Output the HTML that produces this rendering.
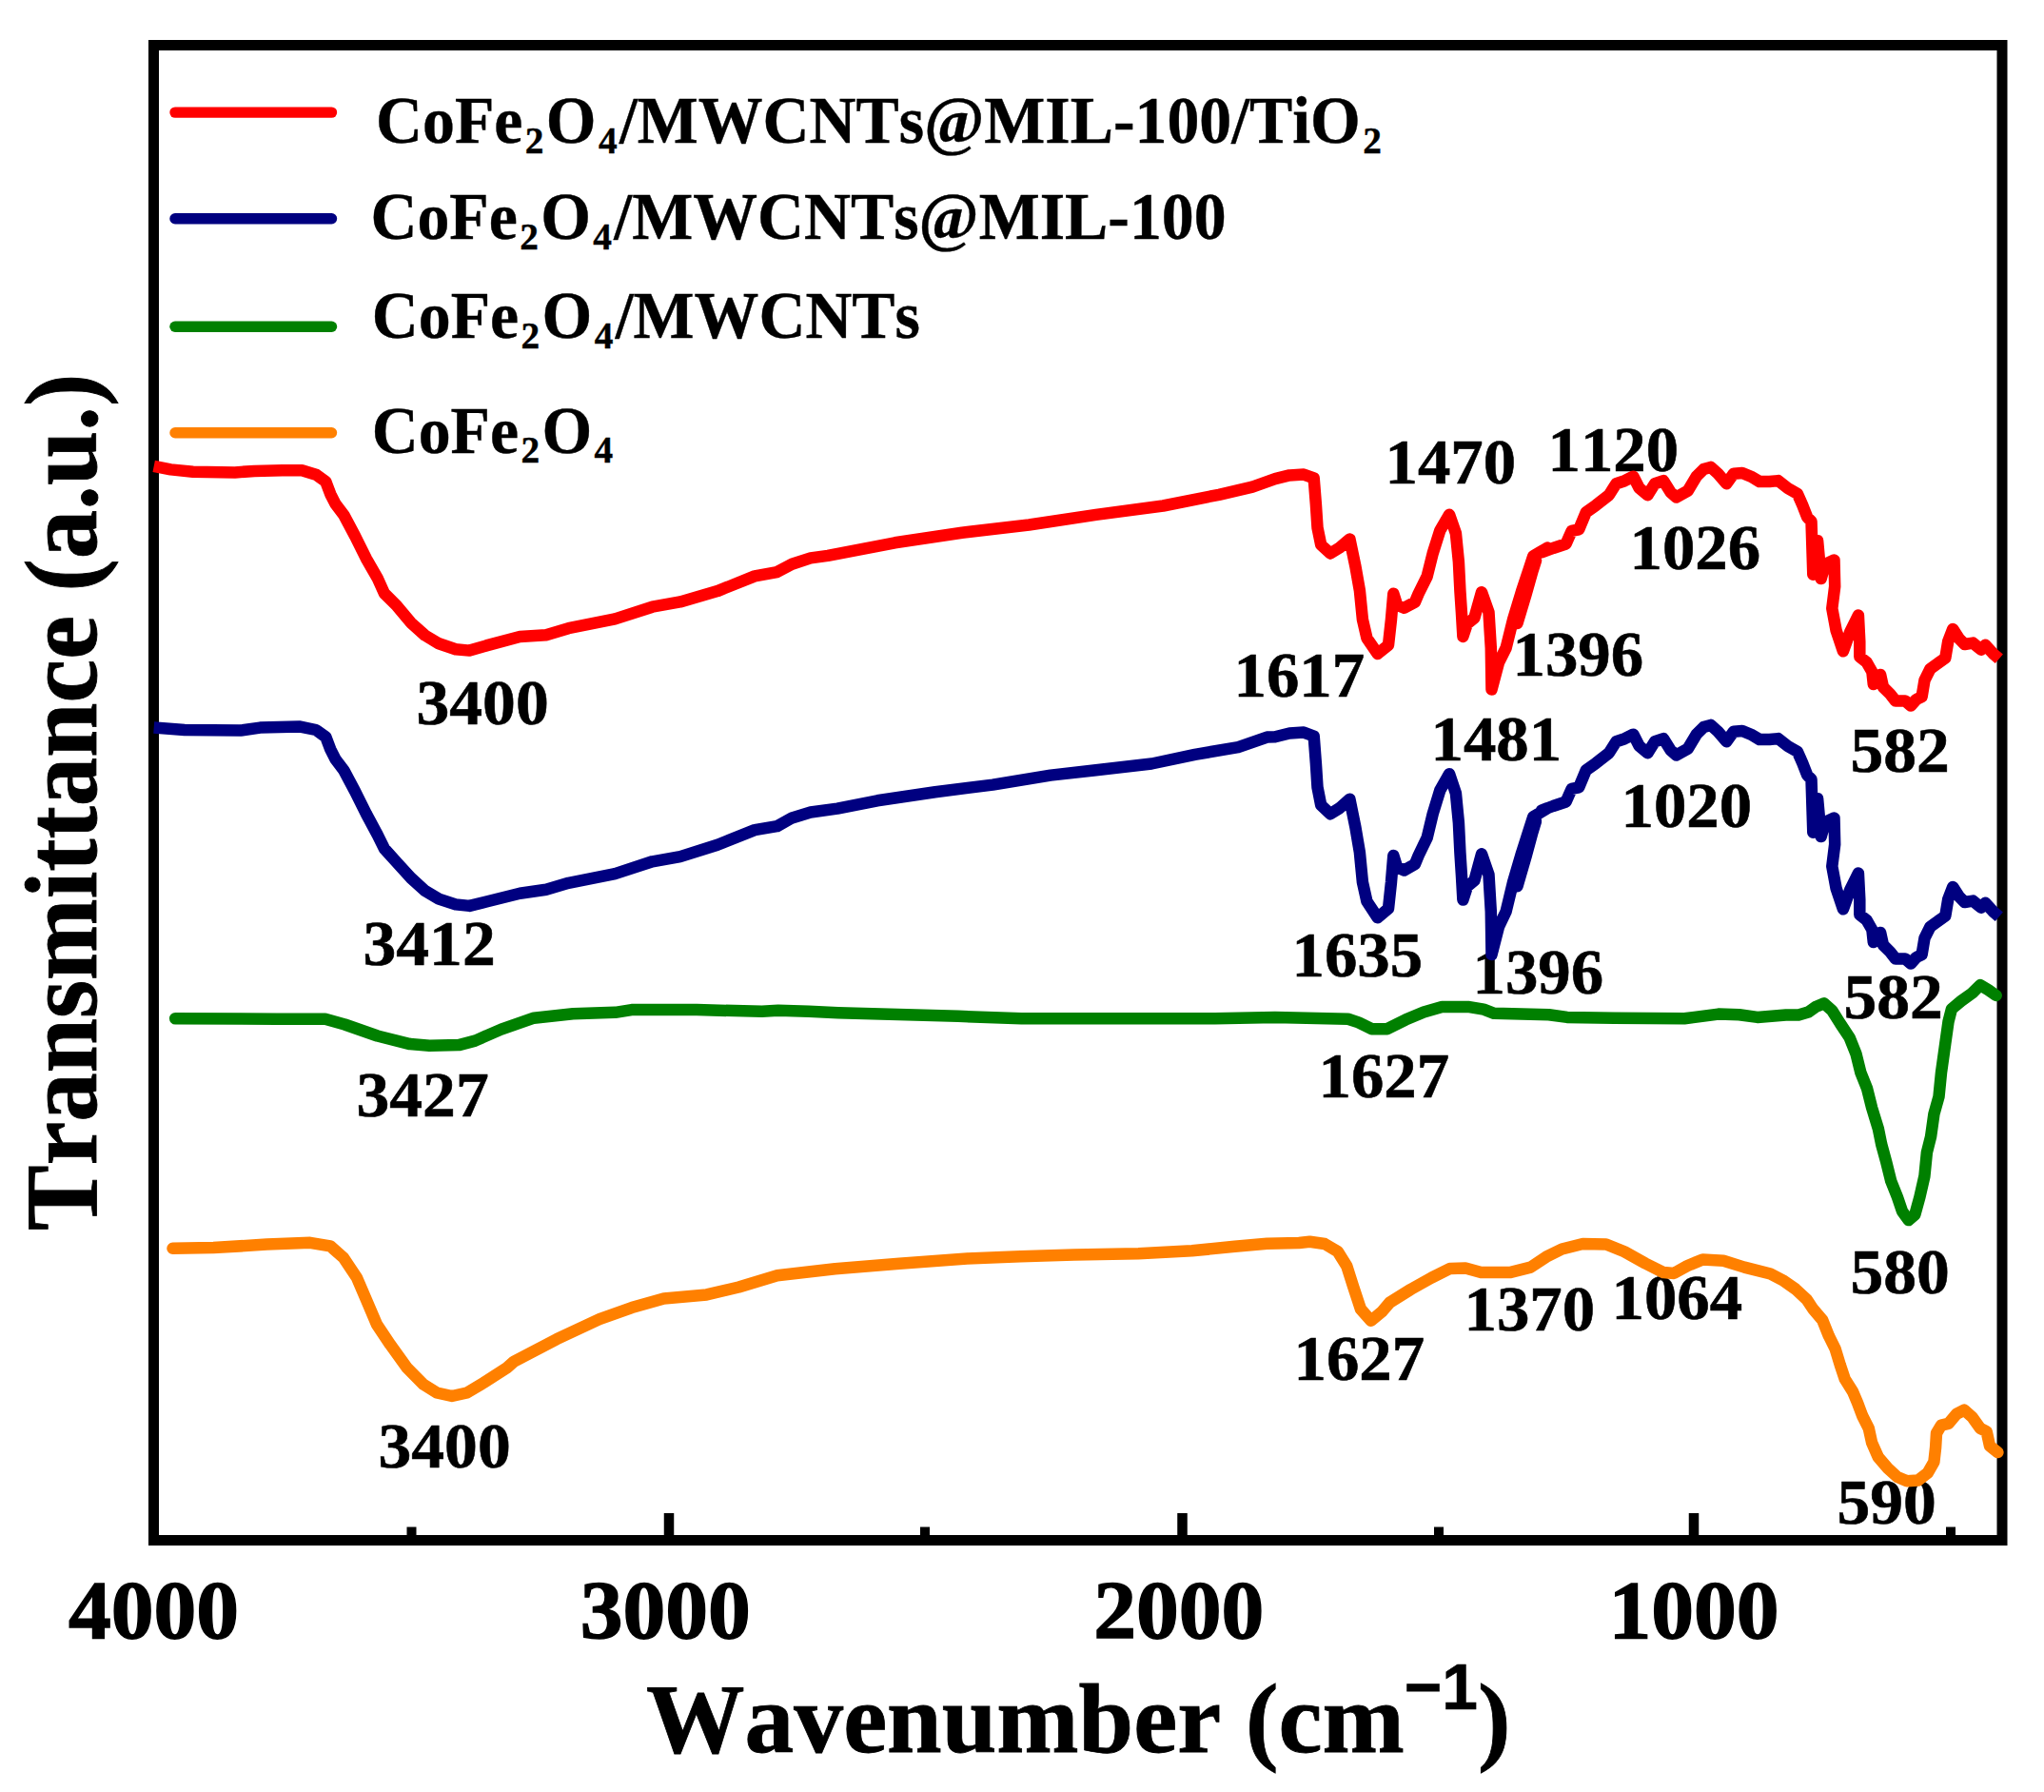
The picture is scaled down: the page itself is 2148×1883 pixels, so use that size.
<!DOCTYPE html>
<html lang="en"><head><meta charset="utf-8"><title>FTIR spectra</title>
<style>
html,body{margin:0;padding:0;background:#fff;}
body{width:2148px;height:1883px;overflow:hidden;}
svg{display:block;}
.s{font-family:"Liberation Serif", "DejaVu Serif", serif;font-weight:bold;fill:#000;font-kerning:none;}
.pk{font-size:68.8px;stroke:#000;stroke-width:0.6px;}
.tk{font-size:87px;stroke:#000;stroke-width:1.4px;}
.lg{font-size:69px;stroke:#000;stroke-width:0.4px;}
.ax{font-size:104px;stroke:#000;stroke-width:0.8px;}
.cv{fill:none;stroke-width:12.5;stroke-linejoin:round;stroke-linecap:round;}
</style></head><body>
<svg width="2148" height="1883" viewBox="0 0 2148 1883">
<rect width="2148" height="1883" fill="#fff"/>
<rect x="161.5" y="47.5" width="1942.5" height="1571" fill="none" stroke="#000" stroke-width="11"/>
<rect x="697.75" y="1590" width="10.5" height="25" fill="#000"/>
<rect x="1237.25" y="1590" width="10.5" height="25" fill="#000"/>
<rect x="1774.75" y="1590" width="10.5" height="25" fill="#000"/>
<rect x="427.5" y="1604.5" width="10" height="10" fill="#000"/>
<rect x="967" y="1604.5" width="10" height="10" fill="#000"/>
<rect x="1507" y="1604.5" width="10" height="10" fill="#000"/>
<rect x="2045" y="1604.5" width="10" height="10" fill="#000"/>
<line x1="184" y1="118.1" x2="348.5" y2="118.1" stroke="#ff0000" stroke-width="11.4" stroke-linecap="round"/>
<text class="s lg" transform="translate(395,150.4) scale(0.983,1)" x="0" y="0">CoFe<tspan dx="2.4" dy="10.5" font-size="40">2</tspan><tspan dx="2.4" dy="-10.5">O</tspan><tspan dx="2.4" dy="10.5" font-size="40">4</tspan><tspan dx="2.4" dy="-10.5">/MWCNTs@MIL-100</tspan><tspan>/TiO</tspan><tspan dx="2.4" dy="10.5" font-size="40">2</tspan></text>
<line x1="184" y1="229.7" x2="348.5" y2="229.7" stroke="#000080" stroke-width="11.4" stroke-linecap="round"/>
<text class="s lg" transform="translate(389.4,251.4) scale(0.983,1)" x="0" y="0">CoFe<tspan dx="2.4" dy="10.5" font-size="40">2</tspan><tspan dx="2.4" dy="-10.5">O</tspan><tspan dx="2.4" dy="10.5" font-size="40">4</tspan><tspan dx="2.4" dy="-10.5">/MWCNTs@MIL-100</tspan></text>
<line x1="184" y1="343.3" x2="348.5" y2="343.3" stroke="#008000" stroke-width="11.4" stroke-linecap="round"/>
<text class="s lg" transform="translate(390.8,355) scale(0.983,1)" x="0" y="0">CoFe<tspan dx="2.4" dy="10.5" font-size="40">2</tspan><tspan dx="2.4" dy="-10.5">O</tspan><tspan dx="2.4" dy="10.5" font-size="40">4</tspan><tspan dx="2.4" dy="-10.5">/MWCNTs</tspan></text>
<line x1="184" y1="454.7" x2="348.5" y2="454.7" stroke="#ff8000" stroke-width="11.4" stroke-linecap="round"/>
<text class="s lg" transform="translate(390.7,475.6) scale(0.983,1)" x="0" y="0">CoFe<tspan dx="2.4" dy="10.5" font-size="40">2</tspan><tspan dx="2.4" dy="-10.5">O</tspan><tspan dx="2.4" dy="10.5" font-size="40">4</tspan></text>
<text class="s pk" transform="translate(437.5,760.5) scale(1.012,0.99)" x="0" y="0">3400</text>
<text class="s pk" transform="translate(381.5,1013.5) scale(1.012,0.99)" x="0" y="0">3412</text>
<text class="s pk" transform="translate(374.5,1172.5) scale(1.012,0.99)" x="0" y="0">3427</text>
<text class="s pk" transform="translate(397.5,1541.5) scale(1.012,0.99)" x="0" y="0">3400</text>
<text class="s pk" transform="translate(1296.5,731.5) scale(1.0,0.99)" x="0" y="0">1617</text>
<text class="s pk" transform="translate(1357.5,1025.5) scale(1.0,0.99)" x="0" y="0">1635</text>
<text class="s pk" transform="translate(1385.5,1152.5) scale(1.0,0.99)" x="0" y="0">1627</text>
<text class="s pk" transform="translate(1359.5,1449.5) scale(1.0,0.99)" x="0" y="0">1627</text>
<text class="s pk" transform="translate(1589.5,709.5) scale(1.0,0.99)" x="0" y="0">1396</text>
<text class="s pk" transform="translate(1503.5,798.5) scale(1.0,0.99)" x="0" y="0">1481</text>
<text class="s pk" transform="translate(1703.5,869.0) scale(1.0,0.99)" x="0" y="0">1020</text>
<text class="s pk" transform="translate(1944.5,810.5) scale(1.012,0.99)" x="0" y="0">582</text>
<text class="s pk" transform="translate(1547.5,1043.5) scale(1.0,0.99)" x="0" y="0">1396</text>
<text class="s pk" transform="translate(1937.5,1069.5) scale(1.012,0.99)" x="0" y="0">582</text>
<text class="s pk" transform="translate(1455.5,507.5) scale(1.0,0.99)" x="0" y="0">1470</text>
<text class="s pk" transform="translate(1626.5,494.5) scale(1.0,0.99)" x="0" y="0">1120</text>
<text class="s pk" transform="translate(1712.5,597.5) scale(1.0,0.99)" x="0" y="0">1026</text>
<text class="s pk" transform="translate(1538.5,1397.5) scale(1.0,0.99)" x="0" y="0">1370</text>
<text class="s pk" transform="translate(1693.5,1385.5) scale(1.0,0.99)" x="0" y="0">1064</text>
<text class="s pk" transform="translate(1944.5,1358.5) scale(1.012,0.99)" x="0" y="0">580</text>
<text class="s pk" transform="translate(1930.5,1600.5) scale(1.012,0.99)" x="0" y="0">590</text>
<polyline class="cv" stroke="#ff8000" points="181.5,1311.8 224.3,1311.1 280.4,1307.6 325.9,1305.8 347.0,1309.3 361.0,1321.6 375.0,1342.6 385.5,1367.1 396.0,1391.7 410.0,1412.7 427.6,1437.2 445.1,1454.8 459.1,1463.5 474.9,1467.0 490.7,1463.5 508.2,1453.0 532.7,1437.2 540,1430.8 585,1407.2 630,1386.2 663.8,1374.1 697.6,1364.4 742.6,1360.4 776.3,1352.5 816.8,1340.3 877.6,1333.3 945.1,1327.7 1016.3,1322.4 1072.5,1320.2 1128.8,1318.4 1196.3,1317.3 1252.6,1314.3 1297.6,1309.8 1331.4,1306.7 1365.1,1306 1376.4,1304.7 1392.1,1307.0 1405.8,1315.2 1415.3,1330.3 1422.2,1352.2 1429.9,1375.5 1440.8,1387.8 1452.3,1378.2 1460.5,1368.6 1482.5,1354.9 1504.4,1342.6 1523.6,1333.0 1540.0,1332.5 1556.4,1337.1 1586.6,1337.1 1608.5,1331.6 1624.9,1320.7 1641.4,1312.5 1663.3,1307.0 1687.9,1307.5 1707.1,1315.2 1729.0,1327.5 1748.2,1337.1 1759.2,1337.9 1772.9,1330.3 1789.3,1323.4 1811.2,1324.8 1833.2,1331.6 1860.5,1338.5 1873.4,1345.2 1886.8,1354.5 1898.5,1365.3 1905.2,1375.4 1915.2,1387.1 1921.9,1403.8 1928.6,1417.2 1933.7,1434.0 1938.7,1449.0 1947.1,1462.4 1952.1,1474.2 1957.1,1487.6 1963.8,1500.9 1967.1,1516.0 1973.8,1531.1 1983.9,1542.8 1993.9,1552.0 2004.0,1556.2 2015.7,1555.4 2025.7,1547.8 2032.4,1536.1 2034.1,1521.0 2035.0,1506.0 2040.0,1497.6 2047.5,1495.9 2055.9,1485.9 2064.2,1481.7 2072.6,1489.2 2081.0,1500.9 2087.7,1504.3 2091.0,1519.4 2099.4,1526.1"/>
<polyline class="cv" stroke="#008000" points="184.2,1070.3 290.4,1070.7 341.8,1070.7 362.3,1076.5 396.6,1088.5 430.8,1097.1 451.4,1098.8 482.2,1098.1 499.3,1093.6 526.7,1081.6 561.0,1069.7 602.1,1065.2 646.6,1063.8 663.7,1061.1 732.2,1061.1 800.7,1062.8 817.8,1061.8 850.0,1062.8 880.7,1064.3 1006.9,1067.8 1073.5,1070.3 1276.7,1070.3 1340.0,1068.9 1372.9,1069.7 1416.7,1070.8 1427.7,1074.4 1441.4,1081.2 1457.8,1081.2 1477.0,1071.6 1496.2,1063.4 1515.3,1057.9 1542.7,1057.9 1559.2,1060.7 1570.1,1064.8 1627.7,1066.2 1646.8,1068.9 1696.2,1069.7 1770.1,1070.3 1805.8,1065.6 1827.7,1066.2 1846.8,1068.9 1876.7,1066.6 1890.1,1066.6 1900.2,1063.6 1908.6,1057.7 1916.9,1054.4 1925.3,1061.9 1933.7,1075.3 1943.7,1090.4 1950.4,1107.1 1955.4,1127.2 1962.1,1143.9 1967.1,1164.0 1973.8,1185.8 1977.2,1202.5 1982.2,1220.9 1987.2,1241.0 1993.9,1257.8 1999.0,1272.8 2005.7,1282.1 2012.4,1276.2 2017.4,1257.8 2022.4,1236.0 2024.9,1210.9 2029.1,1194.2 2032.4,1170.7 2037.5,1152.3 2040.0,1127.2 2044.2,1097.1 2047.5,1073.6 2050.9,1060.2 2060.9,1051.9 2072.6,1043.5 2081.0,1035.1 2089.4,1040.1 2097.7,1046.0"/>
<polyline class="cv" stroke="#000080" stroke-linecap="butt" style="stroke-linecap:butt" points="161.7,764.6 194.0,767.0 252.7,767.6 273.3,764.6 314.4,763.4 332.0,767.0 342.3,774.3 347.3,787.5 352.5,797.8 361.4,809.5 373.1,831.5 384.8,855.0 396.6,877.0 403.9,891.7 417.1,906.4 431.8,922.5 446.5,935.8 461.2,944.6 478.8,950.4 493.4,951.9 511.1,947.5 546.3,938.7 573.9,934.7 597.4,927.8 646.3,918.1 685.5,905.3 714.8,900.1 754,887.7 793.1,872.1 816.6,868.2 832.3,859.4 851.8,853.5 880,849.6 922.0,841.3 982.7,832.2 1043.3,824.6 1104.0,814.6 1149.5,809.5 1210.2,802.5 1255.7,792.8 1301.2,785.2 1331.5,774.6 1340.0,774.3 1355.1,770.5 1370.1,769.6 1380.7,773.5 1382.9,802.4 1384.5,827.3 1388.2,846.0 1398.0,855.3 1407.8,849.1 1418.4,839.7 1424.4,869.3 1428.9,895.8 1431.9,926.8 1436.4,947.1 1447.7,964.2 1459.0,954.8 1462.0,926.8 1464.3,898.9 1468.1,911.2 1475.6,914.5 1486.9,908.1 1490.7,898.9 1499.7,880.2 1505.7,855.3 1513.3,830.4 1523.1,813.2 1529.9,833.5 1532.9,864.6 1534.4,895.8 1535.9,919.1 1537.4,945.5 1541.9,931.5 1549.4,925.3 1557.0,897.3 1564.5,919.1 1566.8,957.9 1567.5,1003.1 1575.1,973.5 1582.6,957.9 1590.1,926.8 1599.2,895.8 1606.7,872.4 1611.2,858.4 1618.8,853.7 1626.3,849.1 1620.0,851.5 1632.1,847.0 1645.6,842.5 1651.6,828.9 1659.2,827.4 1666.7,809.4 1677.3,801.8 1690.8,791.3 1698.4,779.2 1707.4,776.2 1716.4,771.7 1722.5,783.7 1731.5,791.3 1739.0,779.2 1748.1,776.2 1755.6,788.3 1761.6,793.5 1773.7,786.8 1782.7,771.7 1790.3,764.1 1797.8,761.9 1805.3,768.7 1814.4,779.2 1821.9,768.7 1830.9,767.9 1840.0,771.7 1849.0,777.0 1859.6,777.0 1868.7,776.1 1878.9,784.1 1889.0,789.9 1894.1,801.5 1899.2,814.5 1903.5,818.9 1905.3,874.7 1910.1,839.2 1913.7,879.1 1918.0,863.9 1927.5,859.5 1928.2,887.1 1925.3,910.3 1929.6,933.5 1936.9,955.3 1944.2,935.0 1952.9,917.5 1954.3,945.1 1954.3,961.1 1961.6,966.9 1967.4,977.0 1968.8,990.1 1976.1,979.9 1979.0,993.0 1986.2,1000.2 1992.0,1007.5 2002.2,1007.5 2008.0,1012.6 2013.8,1006.0 2019.6,1003.1 2022.5,985.7 2028.3,974.1 2034.1,969.8 2044.3,962.5 2047.2,945.1 2052.2,932.0 2058.8,942.2 2064.6,948.0 2073.3,946.6 2082.0,953.8 2086.3,948.7 2095.0,958.2 2100.8,963.2"/>
<polyline class="cv" stroke="#ff0000" stroke-linecap="butt" style="stroke-linecap:butt" points="161.7,489.9 179.4,493.4 202.8,495.8 246.9,496.4 267.4,494.9 296.8,494.3 317.3,494.3 332.0,498.7 342.3,506.0 347.3,519.3 352.5,529.5 361.4,541.3 373.1,563.3 384.8,586.8 396.6,607.3 403.9,623.5 417.1,636.7 431.8,654.3 446.5,667.5 461.2,676.3 478.8,682.2 493.4,683.6 511.1,678.4 546.3,669.0 573.9,667.2 597.4,660.2 646.3,650.4 685.5,637.7 714.8,632.4 754,621.1 793.1,605.4 816.6,601.1 832.3,592.7 851.8,586.4 870,583.9 940.5,570.3 1010.9,559.7 1081.4,551.5 1151.8,540.9 1222.3,531.5 1281,519.8 1316.2,511.6 1340.0,503.1 1355.1,499.4 1370.1,498.6 1380.7,502.4 1382.9,530.3 1384.5,554.4 1388.2,572.5 1398.0,581.5 1407.8,575.5 1418.4,566.4 1424.4,595.1 1428.9,620.7 1431.9,650.8 1436.4,670.4 1447.7,687.0 1459.0,677.9 1462.0,650.8 1464.3,623.7 1468.1,635.7 1475.6,638.8 1486.9,632.7 1490.7,623.7 1499.7,605.6 1505.7,581.5 1513.3,557.4 1523.1,540.8 1529.9,560.4 1532.9,590.5 1534.4,620.7 1535.9,643.3 1537.4,668.9 1541.9,655.3 1549.4,649.3 1557.0,622.2 1564.5,643.3 1566.8,680.9 1567.5,724.6 1575.1,696.0 1582.6,680.9 1590.1,650.8 1599.2,620.7 1606.7,598.1 1611.2,584.5 1618.8,580.0 1626.3,575.5 1620.0,580.5 1632.1,576.0 1645.6,571.5 1651.6,557.9 1659.2,556.4 1666.7,538.4 1677.3,530.8 1690.8,520.3 1698.4,508.2 1707.4,505.2 1716.4,500.7 1722.5,512.7 1731.5,520.3 1739.0,508.2 1748.1,505.2 1755.6,517.3 1761.6,522.5 1773.7,515.8 1782.7,500.7 1790.3,493.1 1797.8,490.9 1805.3,497.7 1814.4,508.2 1821.9,497.7 1830.9,496.9 1840.0,500.7 1849.0,506.0 1859.6,506.0 1868.7,505.1 1878.9,513.1 1889.0,518.9 1894.1,530.5 1899.2,543.5 1903.5,547.9 1905.3,603.7 1910.1,568.2 1913.7,608.1 1918.0,592.9 1927.5,588.5 1928.2,616.1 1925.3,639.3 1929.6,662.5 1936.9,684.3 1944.2,664.0 1952.9,646.5 1954.3,674.1 1954.3,690.1 1961.6,695.9 1967.4,706.0 1968.8,719.1 1976.1,708.9 1979.0,722.0 1986.2,729.2 1992.0,736.5 2002.2,736.5 2008.0,741.6 2013.8,735.0 2019.6,732.1 2022.5,714.7 2028.3,703.1 2034.1,698.8 2044.3,691.5 2047.2,674.1 2052.2,661.0 2058.8,671.2 2064.6,677.0 2073.3,675.6 2082.0,682.8 2086.3,677.7 2095.0,687.2 2100.8,692.2"/>
<polyline class="cv" stroke="#000080" points="1594.5,931.2 1603.5,900.2 1610.5,874.4 1614,863.0"/>
<polyline class="cv" stroke="#ff0000" points="1594.5,655 1603.5,625 1610.5,600 1614,589"/>
<text class="s tk" transform="translate(161.5,1720.7) scale(1.03,1)" x="0" y="0" text-anchor="middle">4000</text>
<text class="s tk" transform="translate(699.3,1720.7) scale(1.03,1)" x="0" y="0" text-anchor="middle">3000</text>
<text class="s tk" transform="translate(1238.8,1720.7) scale(1.03,1)" x="0" y="0" text-anchor="middle">2000</text>
<text class="s tk" transform="translate(1780,1720.7) scale(1.03,1)" x="0" y="0" text-anchor="middle">1000</text>
<text class="s ax" transform="translate(679,1841) scale(0.996,1)" x="0" y="0">Wavenumber (cm<tspan dy="-45" font-size="68" font-weight="bold" font-family='"Liberation Sans", "DejaVu Sans", sans-serif' stroke-width="0.6">−</tspan><tspan font-size="68" font-weight="bold" font-family='"Liberation Sans", "DejaVu Sans", sans-serif' stroke-width="0.6">1</tspan><tspan dy="45">)</tspan></text>
<text class="s ax" transform="translate(100.8,1293) rotate(-90) scale(1,1.045)" style="font-size:102.9px;stroke-width:0.8px" x="0" y="0">Transmittance (a.u.)</text>
</svg></body></html>
